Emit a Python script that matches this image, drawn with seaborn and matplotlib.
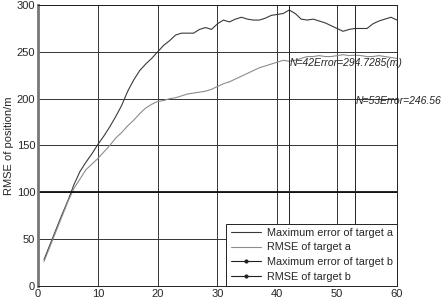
import numpy as np
import pandas as pd
import seaborn as sns
import matplotlib.pyplot as plt

# data
steps = list(range(1, 61))
max_err_a = [28, 44, 60, 76, 91, 108, 122, 132, 141, 151,
             160, 170, 181, 193, 208, 220, 230, 237, 243, 250,
             257, 262, 268, 270, 270, 270, 274, 276, 274, 280,
             284, 282, 285, 287, 285, 284, 284, 286, 289, 290,
             291, 294.7285, 291, 285, 284, 285, 283, 281, 278, 275,
             272, 274, 275, 275, 275, 280, 283, 285, 287, 284]
rmse_a = [26, 42, 58, 74, 90, 104, 114, 124, 130, 136,
          143, 150, 158, 164, 171, 177, 184, 190, 194, 197,
          198, 200, 201, 203, 205, 206, 207, 208, 210, 213,
          216, 218, 221, 224, 227, 230, 233, 235, 237, 239,
          241, 240, 241, 243, 245, 245, 246, 245, 245, 246,
          247, 246, 246.56, 246, 245, 245, 246, 245, 244, 243]
# target b series are only present in the legend
max_err_b = []
rmse_b = []

marks = [(42, 294.7285), (53, 246.56)]
labels = ['Maximum error of target a', 'RMSE of target a',
          'Maximum error of target b', 'RMSE of target b']

sns.set_style('white')
plt.rcParams['font.family'] = ['Liberation Sans', 'DejaVu Sans']
plt.rcParams['font.size'] = 8

df = pd.DataFrame({'step': steps, 'max_a': max_err_a, 'rmse_a': rmse_a})

fig = plt.figure(figsize=(4.42, 2.99), dpi=100)
ax = fig.add_axes([0.086, 0.044, 0.812, 0.939])

sns.lineplot(data=df, x='step', y='max_a', ax=ax, color='#3a3a3a',
             lw=0.8, label=labels[0])
sns.lineplot(data=df, x='step', y='rmse_a', ax=ax, color='#8c8c8c',
             lw=0.8, label=labels[1])
ax.plot(max_err_b, max_err_b, color='#222222', lw=0.8, marker='o',
        ms=2, label=labels[2])
ax.plot(rmse_b, rmse_b, color='#222222', lw=0.8, marker='o',
        ms=2, label=labels[3])

ax.set_xlim(0, 60)
ax.set_ylim(0, 300)
ax.set_xticks(range(0, 61, 10))
ax.set_yticks(range(0, 301, 50))
ax.grid(True, color='#333333', lw=0.7)
ax.axhline(100, color='#111111', lw=1.3)

for n, v in marks:
    ax.axvline(n, color='#222222', lw=0.7)
ax.text(42, 238, f'N={marks[0][0]}Error={marks[0][1]}(m)',
        style='italic', va='center', ha='left', fontsize=7.5, clip_on=False)
ax.text(53.1, 198, f'N={marks[1][0]}Error={marks[1][1]}',
        style='italic', va='center', ha='left', fontsize=7.5, clip_on=False)

ax.set_xlabel('')
ax.set_ylabel('RMSE of position/m', fontsize=8, labelpad=2)
ax.tick_params(direction='in', length=2, labelsize=8, pad=2)

for s in ax.spines.values():
    s.set_color('#222222')
    s.set_linewidth(0.7)
ax.spines['left'].set_color('#777777')
ax.spines['left'].set_linewidth(2)

leg = ax.legend(loc='lower right', frameon=True, fancybox=False,
                edgecolor='#222222', framealpha=1, borderaxespad=0,
                handlelength=2.8, handletextpad=0.5, numpoints=1,
                labelspacing=0.42, fontsize=7.8)
leg.get_frame().set_linewidth(0.7)

fig.savefig('out.png', dpi=100)
